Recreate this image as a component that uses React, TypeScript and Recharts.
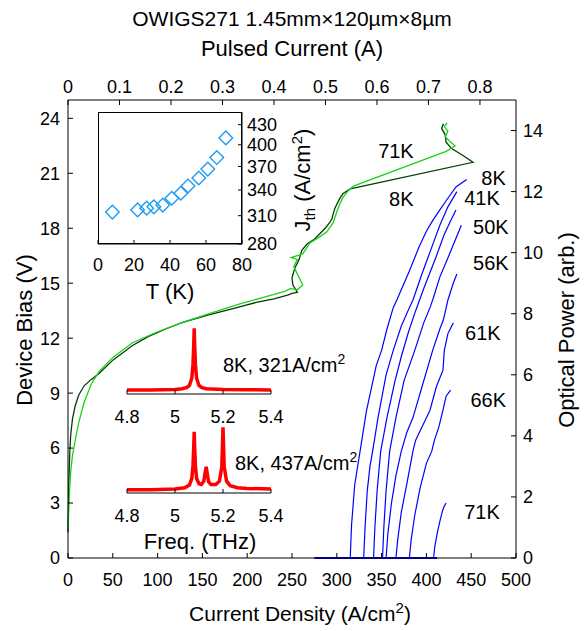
import React from 'react';
import { LineChart, Line, XAxis, YAxis, ReferenceDot, ScatterChart, Scatter } from 'recharts';

const FONT = '"Liberation Sans", Arial, Helvetica, sans-serif';

// ---- axis ticks ----
const J_TICKS = [0, 50, 100, 150, 200, 250, 300, 350, 400, 450, 500];
const I_TICKS = [0, 0.1, 0.2, 0.3, 0.4, 0.5, 0.6, 0.7, 0.8];
const I_RANGE = [0, 0.87];
const V_TICKS = [0, 3, 6, 9, 12, 15, 18, 21, 24];
const P_TICKS = [0, 2, 4, 6, 8, 10, 12, 14];
const T_TICKS = [0, 20, 40, 60, 80];
const JTH_TICKS = [280, 310, 340, 370, 400, 430];
const F_TICKS = [4.8, 5, 5.2, 5.4];

// ---- J-V curves: [J (A/cm2), V] ----
const JV_8K = [[0,1.4],[0.5,2.8],[1,4.2],[2,5.8],[3,6.7],[5,7.6],[8,8.3],[12,8.9],[18,9.4],[26,9.75],[35,10.08],[50,10.8],[72,11.6],[90,12.1],[109,12.5],[125,12.8],[131,12.9],[155,13.25],[183,13.6],[210,13.95],[230,14.15],[245,14.35],[250,14.45],[256,14.5],[251,14.9],[250,15.3],[253,15.8],[258,16.3],[261,16.8],[267,17.15],[275,17.4],[281,17.7],[287,18.0],[292,18.3],[294.5,18.5],[296,18.8],[298,19.1],[303,19.6],[307,19.9],[315,20.15],[452,21.6],[440,22.0],[428,22.35],[422,22.7],[421,23.1],[417,23.45],[419,23.7]];
const JV_71K = [[0,1.5],[0.5,2.2],[1,2.9],[2,3.9],[3,4.7],[5,5.6],[8,6.4],[12,7.4],[18,8.5],[26,9.5],[35,10.2],[50,10.95],[72,11.75],[100,12.35],[127,12.85],[155,13.3],[190,13.85],[220,14.25],[242,14.55],[248,14.7],[256,14.65],[262,14.9],[257,15.4],[252,15.9],[256,16.3],[249,16.4],[262,16.6],[266,16.9],[270,17.2],[280,17.5],[289,17.8],[293,18.1],[296,18.3],[300,18.9],[304,19.4],[307,19.7],[312,20.0],[318.5,20.3],[422,22.2],[432,22.5],[426,22.75],[421,23.0],[424,23.3],[420,23.55],[423,23.75]];

// ---- L-J curves: [J (A/cm2), optical power] ----
const LI_8K = [[315,0],[316.5,1.1],[320,2.4],[326,3.5],[333,4.8],[344,6.3],[350,6.8],[356,7.5],[363,8.2],[367,8.45],[381,9.4],[392,10.2],[400,10.7],[407,11.05],[415,11.4],[422,11.7],[433,12.15],[440,12.3],[445,12.4]];
const LI_41K = [[330,0],[331.5,1.0],[334,2.2],[337,3.0],[340,3.5],[346,4.6],[355,6.0],[363,6.8],[372,7.6],[381,8.2],[385,8.45],[395,9.3],[405,10.1],[415,10.9],[424,11.5],[434,12.0]];
const LI_46K = [[341,0],[342.5,1.0],[345,2.2],[349,3.5],[356,4.6],[365,5.8],[372,6.6],[380,7.4],[388,8.1],[398,8.9],[410,9.8],[420,10.6],[428,11.1],[433,11.4]];
const LI_50K = [[351,0],[352.5,1.0],[355,2.2],[359,3.5],[366,4.6],[375,5.8],[387,6.8],[397,7.7],[404,8.2],[407,8.45],[415,9.2],[425,9.9],[432,10.4],[439,10.9]];
const LI_56K = [[355,0],[357,0.8],[361,1.8],[366,2.7],[372,3.5],[378,4.1],[385,4.6],[396,5.7],[407,6.8],[415,7.5],[419,7.8],[424,8.45],[430,9.0],[434,9.3]];
const LI_61K = [[366,0],[368,0.6],[372,1.5],[378,2.4],[385,3.5],[388,3.86],[396,4.35],[404,4.84],[411,5.6],[418.5,6.15],[420,6.8],[424,7.35],[430,7.7]];
const LI_66K = [[381,0],[383,0.6],[387,1.4],[393,2.3],[400,3.1],[406,3.5],[409,3.86],[414,4.3],[418.5,4.84],[422,5.3],[427,5.5]];
const LI_71K = [[408,0],[409.5,0.4],[412,0.8],[415,1.2],[418,1.55],[420,1.7],[422,1.8]];
const LI_BASE = [[275,0],[412,0]];

// ---- inset: threshold current density vs temperature ----
const INSET_T = [8, 22, 27, 31, 36, 41, 46, 50, 56, 61, 66, 71];
const INSET_JTH = [314, 316.5, 318.5, 320, 322, 330, 336, 345, 355, 366.5, 382, 410];

// ---- spectra: [freq THz, intensity] ----
const SPEC_321 = [[4.8,0.06],[4.9,0.06],[4.95,0.065],[5.0,0.07],[5.03,0.08],[5.05,0.1],[5.06,0.13],[5.07,0.24],[5.075,0.45],[5.078,0.75],[5.08,1.0],[5.082,0.75],[5.085,0.45],[5.09,0.24],[5.1,0.13],[5.11,0.1],[5.13,0.08],[5.2,0.07],[5.3,0.065],[5.4,0.06]];
const SPEC_437 = [[4.8,0.05],[4.9,0.05],[5.0,0.06],[5.04,0.08],[5.06,0.12],[5.07,0.22],[5.075,0.42],[5.078,0.7],[5.08,0.93],[5.082,0.7],[5.085,0.42],[5.09,0.22],[5.1,0.14],[5.11,0.13],[5.12,0.18],[5.125,0.3],[5.13,0.4],[5.135,0.28],[5.14,0.17],[5.15,0.13],[5.17,0.13],[5.185,0.18],[5.195,0.4],[5.2,1.0],[5.205,0.4],[5.215,0.18],[5.23,0.11],[5.26,0.08],[5.3,0.07],[5.4,0.06]];

// ---- annotation anchors (data coordinates) ----
const LI_LABELS = [
  { t: '8K', j: 475, p: 12.45 },
  { t: '41K', j: 462, p: 11.8 },
  { t: '50K', j: 472, p: 10.85 },
  { t: '56K', j: 472, p: 9.66 },
  { t: '61K', j: 463, p: 7.37 },
  { t: '66K', j: 469, p: 5.18 },
  { t: '71K', j: 462, p: 1.5 },
];
const JV_LABELS = [
  { t: '71K', j: 366, v: 22.2 },
  { t: '8K', j: 372, v: 19.6 },
];

const toPts = (arr: number[][], key: string) => arr.map(([x, y]) => ({ j: x, [key]: y }));
const toSpec = (arr: number[][]) => arr.map(([f, a]) => ({ f, a }));
const insetData = INSET_T.map((t, i) => ({ t, jth: INSET_JTH[i] }));
const topAxisData = I_RANGE.map((i) => ({ i, v: 0 }));

const DARK = '#003d00';
const LIGHT = '#1ad21a';
const BLUE = '#0000ff';

const tickStyle = { fontSize: 18, fill: '#000', fontFamily: FONT };
const annStyle = { fontSize: 20, fill: '#000', fontFamily: FONT };

const Diamond = (props: any) => {
  const { cx, cy } = props;
  const h = 6.8;
  return (
    <path
      d={`M${cx},${cy - h}L${cx + h},${cy}L${cx},${cy + h}L${cx - h},${cy}Z`}
      fill="none"
      stroke="#1e9cf0"
      strokeWidth={1.4}
    />
  );
};

const Spectrum = ({ data, left, top }: { data: number[][]; left: number; top: number }) => (
  <div style={{ position: 'absolute', left, top }}>
    <LineChart width={174} height={104} margin={{ top: 0, right: 15, bottom: 0, left: 15 }}>
      <XAxis
        dataKey="f"
        type="number"
        domain={[4.8, 5.4]}
        ticks={F_TICKS}
        interval={0}
        height={35}
        tickSize={-4}
        tickMargin={20}
        stroke="#000"
        tick={tickStyle}
        allowDataOverflow
      />
      <YAxis hide type="number" domain={[0, 1.05]} />
      <Line
        data={toSpec(data)}
        dataKey="a"
        stroke="#ff0000"
        strokeWidth={3.5}
        dot={false}
        isAnimationActive={false}
      />
    </LineChart>
  </div>
);

export default function App() {
  const lineProps = { dot: false, isAnimationActive: false, type: 'linear' as const };
  const liCurves = [LI_8K, LI_41K, LI_46K, LI_50K, LI_56K, LI_61K, LI_66K, LI_71K];
  return (
    <div style={{ position: 'absolute', left: 0, top: 0, width: 586, height: 631, background: '#fff', fontFamily: FONT }}>
      <div style={{ position: 'absolute', left: 0, top: 0 }}>
        <LineChart width={586} height={631} margin={{ top: 0, right: 0, bottom: 0, left: 0 }}>
          <XAxis
            xAxisId="J"
            dataKey="j"
            type="number"
            domain={[0, 500]}
            ticks={J_TICKS}
            interval={0}
            orientation="bottom"
            height={73}
            tickSize={-5}
            tickMargin={20}
            stroke="#000"
            tick={tickStyle}
          />
          <XAxis
            xAxisId="I"
            dataKey="i"
            type="number"
            domain={I_RANGE}
            ticks={I_TICKS}
            interval={0}
            orientation="top"
            height={100}
            tickSize={-5}
            tickMargin={12}
            stroke="#000"
            tick={tickStyle}
            allowDataOverflow
          />
          <YAxis
            yAxisId="V"
            type="number"
            domain={[0, 25]}
            ticks={V_TICKS}
            interval={0}
            orientation="left"
            width={68}
            tickSize={-5}
            tickMargin={13}
            stroke="#000"
            tick={tickStyle}
          />
          <YAxis
            yAxisId="P"
            type="number"
            domain={[0, 15]}
            ticks={P_TICKS}
            interval={0}
            orientation="right"
            width={70}
            tickSize={-5}
            tickMargin={12}
            stroke="#000"
            tick={tickStyle}
          />
          <Line {...lineProps} xAxisId="I" yAxisId="V" data={topAxisData} dataKey="v" stroke="none" strokeWidth={0} />
          <Line {...lineProps} xAxisId="J" yAxisId="P" data={toPts(LI_BASE, 'p')} dataKey="p" stroke={BLUE} strokeWidth={2} />
          {liCurves.map((c, i) => (
            <Line key={i} {...lineProps} xAxisId="J" yAxisId="P" data={toPts(c, 'p')} dataKey="p" stroke={BLUE} strokeWidth={1.2} />
          ))}
          <Line {...lineProps} xAxisId="J" yAxisId="V" data={toPts(JV_8K, 'v')} dataKey="v" stroke={DARK} strokeWidth={1.3} />
          <Line {...lineProps} xAxisId="J" yAxisId="V" data={toPts(JV_71K, 'v')} dataKey="v" stroke={LIGHT} strokeWidth={1.3} />
          {LI_LABELS.map((l, i) => (
            <ReferenceDot
              key={'li' + i}
              xAxisId="J"
              yAxisId="P"
              x={l.j}
              y={l.p}
              r={0}
              fill="none"
              stroke="none"
              label={{ value: l.t, position: 'center', ...annStyle }}
            />
          ))}
          {JV_LABELS.map((l, i) => (
            <ReferenceDot
              key={'jv' + i}
              xAxisId="J"
              yAxisId="V"
              x={l.j}
              y={l.v}
              r={0}
              fill="none"
              stroke="none"
              label={{ value: l.t, position: 'center', ...annStyle }}
            />
          ))}
        </LineChart>
      </div>

      {/* inset: Jth vs T */}
      <div style={{ position: 'absolute', left: 98, top: 112, width: 144, height: 132, background: '#fff', border: '1px solid #000', boxSizing: 'border-box' }} />
      <div style={{ position: 'absolute', left: 78, top: 112 }}>
        <ScatterChart width={224} height={192} margin={{ top: 0, right: 0, bottom: 0, left: 20 }}>
          <XAxis
            dataKey="t"
            type="number"
            domain={[0, 80]}
            ticks={T_TICKS}
            interval={0}
            height={60}
            tickSize={-4}
            tickMargin={18}
            stroke="#000"
            tick={tickStyle}
            allowDataOverflow
          />
          <YAxis
            dataKey="jth"
            type="number"
            scale="log"
            domain={[280, 450]}
            ticks={JTH_TICKS}
            interval={0}
            orientation="right"
            width={60}
            tickSize={-4}
            tickMargin={9}
            stroke="#000"
            tick={tickStyle}
            allowDataOverflow
          />
          <Scatter data={insetData} shape={Diamond} isAnimationActive={false} />
        </ScatterChart>
      </div>

      <Spectrum data={SPEC_321} left={112} top={325} />
      <Spectrum data={SPEC_437} left={112} top={424} />

      <svg width={586} height={631} style={{ position: 'absolute', left: 0, top: 0, pointerEvents: 'none' }} fontFamily={FONT} fill="#000">
        <text x={292} y={26} fontSize={21} textAnchor="middle">OWIGS271 1.45mm×120µm×8µm</text>
        <text x={292} y={56} fontSize={22} textAnchor="middle">Pulsed Current (A)</text>
        <text x={300} y={621} fontSize={21} textAnchor="middle">
          Current Density (A/cm<tspan dy={-8} fontSize={15}>2</tspan><tspan dy={8}>)</tspan>
        </text>
        <text transform="translate(32,330) rotate(-90)" fontSize={22} textAnchor="middle">Device Bias (V)</text>
        <text transform="translate(574,330) rotate(-90)" fontSize={22} textAnchor="middle">Optical Power (arb.)</text>
        <text x={170} y={299} fontSize={22} textAnchor="middle">T (K)</text>
        <text transform="translate(310,180) rotate(-90)" fontSize={22} textAnchor="middle">
          J<tspan dy={5} fontSize={15}>th</tspan><tspan dy={-5}> (A/cm</tspan><tspan dy={-8} fontSize={15}>2</tspan><tspan dy={8}>)</tspan>
        </text>
        <text x={223} y={372} fontSize={20}>
          8K, 321A/cm<tspan dy={-8} fontSize={14}>2</tspan>
        </text>
        <text x={235} y={470} fontSize={20}>
          8K, 437A/cm<tspan dy={-8} fontSize={14}>2</tspan>
        </text>
        <text x={200} y={549} fontSize={22} textAnchor="middle">Freq. (THz)</text>
      </svg>
    </div>
  );
}
